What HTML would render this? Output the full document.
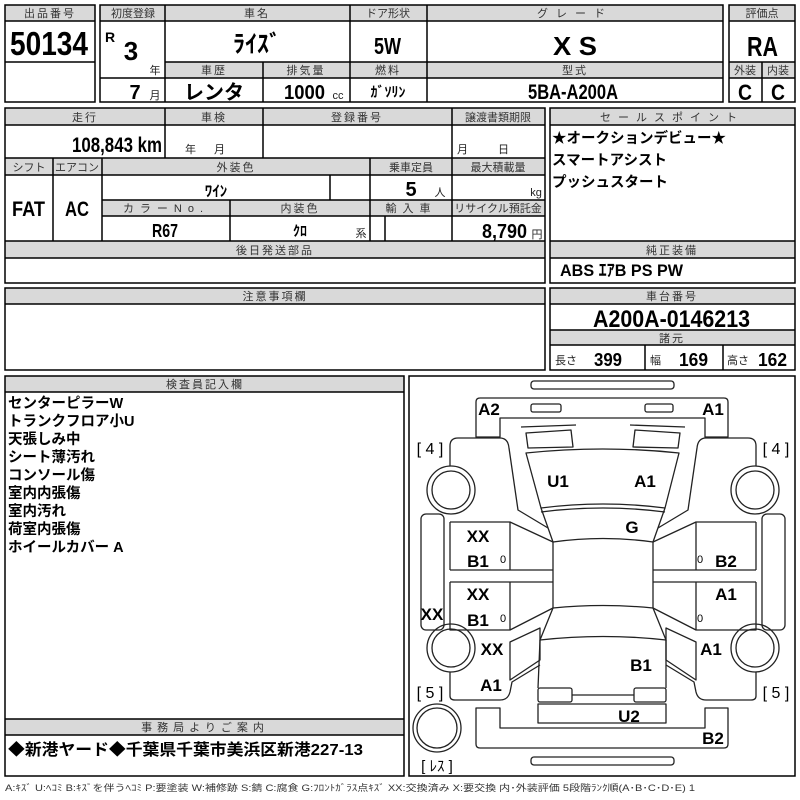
<!DOCTYPE html>
<html><head><meta charset="utf-8"><style>
html,body{margin:0;padding:0;background:#fff;}
svg{display:block;}
text{font-family:"Liberation Sans Narrow","Liberation Sans","Noto Sans CJK JP",sans-serif;}
.h{font-size:11px;fill:#333;text-anchor:middle;letter-spacing:2px;}
.b{font-weight:bold;fill:#000;}
.c{text-anchor:middle;}
.s{font-size:11px;fill:#222;}
.j{font-family:"Liberation Sans","Noto Sans CJK JP",sans-serif;}
.car{fill:none;stroke:#222;stroke-width:1.3;stroke-linejoin:round;}
.cl{font-size:17px;font-weight:bold;text-anchor:middle;}
</style></head><body>
<svg width="800" height="800" viewBox="0 0 800 800" xmlns="http://www.w3.org/2000/svg">
<g fill="#d9d9d9" stroke="none">
<rect x="5" y="5" width="90" height="16"/>
<rect x="100" y="5" width="623" height="16"/>
<rect x="165" y="62" width="558" height="16"/>
<rect x="729" y="5" width="66" height="16"/>
<rect x="729" y="62" width="66" height="16"/>
<rect x="5" y="108" width="540" height="17"/>
<rect x="5" y="158" width="540" height="17"/>
<rect x="102" y="200" width="443" height="16"/>
<rect x="5" y="241" width="540" height="17"/>
<rect x="550" y="108" width="245" height="17"/>
<rect x="550" y="241" width="245" height="17"/>
<rect x="5" y="288" width="540" height="16"/>
<rect x="550" y="288" width="245" height="16"/>
<rect x="550" y="330" width="245" height="15"/>
<rect x="5" y="376" width="399" height="16"/>
<rect x="5" y="719" width="399" height="16"/>
</g>
<g fill="none" stroke="#000" stroke-width="1.5">
<rect x="5" y="5" width="90" height="97"/>
<path d="M5 21H95M5 62H95"/>
<rect x="100" y="5" width="623" height="97"/>
<path d="M100 21H723M165 62H723M100 78H723M165 5V102M350 5V102M427 5V102M263 62V102"/>
<rect x="729" y="5" width="66" height="97"/>
<path d="M729 21H795M729 62H795M729 78H795M762 62V102"/>
<rect x="5" y="108" width="540" height="175"/>
<path d="M5 125H545M5 158H545M5 175H545M102 200H545M102 216H545M5 241H545M5 258H545"/>
<path d="M165 108V158M263 108V158M452 108V158M53 158V241M102 158V241M370 158V241M452 158V241M330 175V200M230 200V241M385 216V241"/>
<rect x="550" y="108" width="245" height="175"/>
<path d="M550 125H795M550 241H795M550 258H795"/>
<rect x="5" y="288" width="540" height="82"/>
<path d="M5 304H545"/>
<rect x="550" y="288" width="245" height="82"/>
<path d="M550 304H795M550 330H795M550 345H795M645 345V370M723 345V370"/>
<rect x="5" y="376" width="399" height="400"/>
<path d="M5 392H404M5 719H404M5 735H404"/>
<rect x="409" y="376" width="386" height="400"/>
</g>
<g class="h j">
<text x="50" y="17">出品番号</text>
<text x="133" y="17" letter-spacing="0">初度登録</text>
<text x="257" y="17">車名</text>
<text x="388" y="17" letter-spacing="0">ドア形状</text>
<text x="575" y="17" letter-spacing="8">グレード</text>
<text x="762" y="17" letter-spacing="0">評価点</text>
<text x="214" y="74">車歴</text>
<text x="306" y="74">排気量</text>
<text x="388" y="74">燃料</text>
<text x="575" y="74">型式</text>
<text x="745" y="74" letter-spacing="0">外装</text>
<text x="778" y="74" letter-spacing="0">内装</text>
<text x="85" y="121">走行</text>
<text x="214" y="121">車検</text>
<text x="357" y="121">登録番号</text>
<text x="498" y="121" letter-spacing="0">譲渡書類期限</text>
<text x="29" y="171" letter-spacing="0">シフト</text>
<text x="77" y="171" letter-spacing="0">エアコン</text>
<text x="236" y="171">外装色</text>
<text x="411" y="171" letter-spacing="0">乗車定員</text>
<text x="498" y="171" letter-spacing="0">最大積載量</text>
<text x="166" y="212" letter-spacing="6">カラーNo.</text>
<text x="300" y="212">内装色</text>
<text x="411" y="212" letter-spacing="6">輸入車</text>
<text x="498" y="212" letter-spacing="0">リサイクル預託金</text>
<text x="275" y="254">後日発送部品</text>
<text x="672" y="121" letter-spacing="7">セールスポイント</text>
<text x="672" y="254">純正装備</text>
<text x="275" y="300">注意事項欄</text>
<text x="672" y="300">車台番号</text>
<text x="672" y="342">諸元</text>
<text x="205" y="388">検査員記入欄</text>
<text x="205" y="731" letter-spacing="5">事務局よりご案内</text>
</g>
<text x="10" y="55" class="b" font-size="33" textLength="78" lengthAdjust="spacingAndGlyphs">50134</text>
<text x="105" y="42" class="b" font-size="14">R</text>
<text x="131" y="60" class="b c" font-size="26">3</text>
<text x="155" y="74" class="s j c">年</text>
<text x="135" y="99" class="b c" font-size="20">7</text>
<text x="155" y="99" class="s j c">月</text>
<text x="257" y="52" class="b c j" font-size="24">ﾗｲｽﾞ</text>
<text x="374" y="54" class="b" font-size="23" textLength="27" lengthAdjust="spacingAndGlyphs">5W</text>
<text x="553" y="55" class="b" font-size="26" textLength="44" lengthAdjust="spacingAndGlyphs">X S</text>
<text x="747" y="56" class="b" font-size="28" textLength="31" lengthAdjust="spacingAndGlyphs">RA</text>
<text x="214" y="99" class="b c j" font-size="20">レンタ</text>
<text x="284" y="99" class="b" font-size="20" textLength="41" lengthAdjust="spacingAndGlyphs">1000</text>
<text x="338" y="99" class="s c">cc</text>
<text x="388" y="97" class="b c j" font-size="14">ｶﾞｿﾘﾝ</text>
<text x="528" y="99" class="b" font-size="21" textLength="90" lengthAdjust="spacingAndGlyphs">5BA-A200A</text>
<text x="745" y="100" class="b c" font-size="22" textLength="14" lengthAdjust="spacingAndGlyphs">C</text>
<text x="778" y="100" class="b c" font-size="22" textLength="14" lengthAdjust="spacingAndGlyphs">C</text>
<text x="72" y="152" class="b" font-size="21" textLength="90" lengthAdjust="spacingAndGlyphs">108,843 km</text>
<text x="214" y="153" class="s j c" letter-spacing="18">年月</text>
<text x="498" y="153" class="s j c" letter-spacing="30">月日</text>
<text x="12" y="216" class="b" font-size="21" textLength="33" lengthAdjust="spacingAndGlyphs">FAT</text>
<text x="65" y="216" class="b" font-size="21" textLength="24" lengthAdjust="spacingAndGlyphs">AC</text>
<text x="216" y="196" class="b c j" font-size="15">ﾜｲﾝ</text>
<text x="411" y="196" class="b c" font-size="20">5</text>
<text x="440" y="196" class="s j c">人</text>
<text x="536" y="196" class="s c">kg</text>
<text x="152" y="237" class="b" font-size="18" textLength="26" lengthAdjust="spacingAndGlyphs">R67</text>
<text x="300" y="236" class="b c j" font-size="14">ｸﾛ</text>
<text x="361" y="237" class="s j c">系</text>
<text x="482" y="238" class="b" font-size="20" textLength="45" lengthAdjust="spacingAndGlyphs">8,790</text>
<text x="537" y="238" class="s j c">円</text>
<g class="b j" font-size="14.5">
<text x="552" y="143">★オークションデビュー★</text>
<text x="552" y="165">スマートアシスト</text>
<text x="552" y="187">プッシュスタート</text>
</g>
<text x="560" y="276" class="b j" font-size="17" textLength="123" lengthAdjust="spacingAndGlyphs">ABS ｴｱB PS PW</text>
<text x="593" y="327" class="b" font-size="24" textLength="157" lengthAdjust="spacingAndGlyphs">A200A-0146213</text>
<text x="555" y="364" class="s j">長さ</text>
<text x="594" y="366" class="b" font-size="18" textLength="28" lengthAdjust="spacingAndGlyphs">399</text>
<text x="650" y="364" class="s j">幅</text>
<text x="679" y="366" class="b" font-size="18" textLength="29" lengthAdjust="spacingAndGlyphs">169</text>
<text x="727" y="364" class="s j">高さ</text>
<text x="758" y="366" class="b" font-size="18" textLength="29" lengthAdjust="spacingAndGlyphs">162</text>
<g class="b j" font-size="14.5">
<text x="8" y="408">センターピラーW</text>
<text x="8" y="426">トランクフロア小U</text>
<text x="8" y="444">天張しみ中</text>
<text x="8" y="462">シート薄汚れ</text>
<text x="8" y="480">コンソール傷</text>
<text x="8" y="498">室内内張傷</text>
<text x="8" y="516">室内汚れ</text>
<text x="8" y="534">荷室内張傷</text>
<text x="8" y="552">ホイールカバー A</text>
</g>
<text x="8" y="755" class="b j" font-size="16" textLength="355" lengthAdjust="spacingAndGlyphs">◆新港ヤード◆千葉県千葉市美浜区新港227-13</text>
<text x="5" y="791" class="j" font-size="9" fill="#333" textLength="690" lengthAdjust="spacingAndGlyphs">A:ｷｽﾞ U:ﾍｺﾐ B:ｷｽﾞを伴うﾍｺﾐ P:要塗装 W:補修跡 S:錆 C:腐食 G:ﾌﾛﾝﾄｶﾞﾗｽ点ｷｽﾞ XX:交換済み X:要交換 内･外装評価 5段階ﾗﾝｸ順(A･B･C･D･E) 1</text>
<g class="car">
<rect x="531" y="381" width="143" height="8" rx="3"/>
<rect x="531" y="757" width="143" height="8" rx="3"/>
<path d="M476 437L476 402Q476 398 480 398L724 398Q728 398 728 402L728 437L705 437L705 418L500 418L500 437Z"/>
<rect x="531" y="404" width="30" height="8" rx="2"/>
<rect x="645" y="404" width="28" height="8" rx="2"/>
<path d="M476 708L500 708L500 728L705 728L705 708L728 708L728 744Q728 748 724 748L480 748Q476 748 476 744Z"/>
<circle cx="451" cy="490" r="24"/><circle cx="451" cy="490" r="19"/>
<circle cx="755" cy="490" r="24"/><circle cx="755" cy="490" r="19"/>
<circle cx="451" cy="648" r="24"/><circle cx="451" cy="648" r="19"/>
<circle cx="755" cy="648" r="24"/><circle cx="755" cy="648" r="19"/>
<circle cx="437" cy="728" r="24"/><circle cx="437" cy="728" r="20"/>
<rect x="421" y="514" width="23" height="116" rx="5"/>
<rect x="762" y="514" width="23" height="116" rx="5"/>
<g id="side">
<path d="M450 466L450 446Q450 438 458 438L500 438Q508 438 509 448L518 510L548 528"/>
<path d="M450 522L510 522L553 542M510 522L510 570M450 522L450 570M450 570L553 570M450 582L553 582M450 582L450 630L510 630L553 608M510 582L510 630"/>
<path d="M450 672L450 696Q450 700 455 700L500 700Q508 700 510 692L512 682L540 665"/>
<path d="M510 642L540 628L540 660L510 680Z"/>
</g>
<use href="#side" transform="translate(1206,0) scale(-1,1)"/>
<path d="M521 427L576 425M685 427L630 425"/>
<path d="M526 433L571 430L573 447L528 448Z"/>
<path d="M680 433L635 430L633 447L678 448Z"/>
<path d="M526 453Q603 445 679 453L665 508Q603 500 541 508Z"/>
<path d="M541 512Q603 504 665 512"/>
<path d="M541 508L553 542Q603 535 653 542L665 508"/>
<path d="M553 542L553 608M653 542L653 608"/>
<path d="M553 608Q603 603 653 608"/>
<path d="M553 608L540 640Q603 633 666 640L653 608"/>
<path d="M540 640L538 688M666 640L666 688"/>
<rect x="538" y="688" width="34" height="14" rx="2"/>
<rect x="634" y="688" width="32" height="14" rx="2"/>
<path d="M572 695H634"/>
<rect x="538" y="704" width="128" height="19"/>
</g>
<g class="cl">
<text x="489" y="415">A2</text><text x="713" y="415">A1</text>
<text x="430" y="454" font-weight="normal" font-size="16">[ 4 ]</text>
<text x="776" y="454" font-weight="normal" font-size="16">[ 4 ]</text>
<text x="558" y="487">U1</text><text x="645" y="487">A1</text>
<text x="632" y="533">G</text>
<text x="478" y="542">XX</text><text x="478" y="567">B1</text>
<text x="503" y="563" font-size="11" font-weight="normal">0</text>
<text x="700" y="563" font-size="11" font-weight="normal">0</text>
<text x="726" y="567">B2</text>
<text x="478" y="600">XX</text><text x="478" y="626">B1</text>
<text x="503" y="622" font-size="11" font-weight="normal">0</text>
<text x="700" y="622" font-size="11" font-weight="normal">0</text>
<text x="726" y="600">A1</text>
<text x="432" y="620">XX</text>
<text x="492" y="655">XX</text><text x="711" y="655">A1</text>
<text x="641" y="671">B1</text>
<text x="491" y="691">A1</text>
<text x="430" y="698" font-weight="normal" font-size="16">[ 5 ]</text>
<text x="776" y="698" font-weight="normal" font-size="16">[ 5 ]</text>
<text x="629" y="722">U2</text>
<text x="713" y="744">B2</text>
<text x="437" y="771" font-weight="normal" font-size="15" class="j">[ ﾚｽ ]</text>
</g>
</svg>
</body></html>
